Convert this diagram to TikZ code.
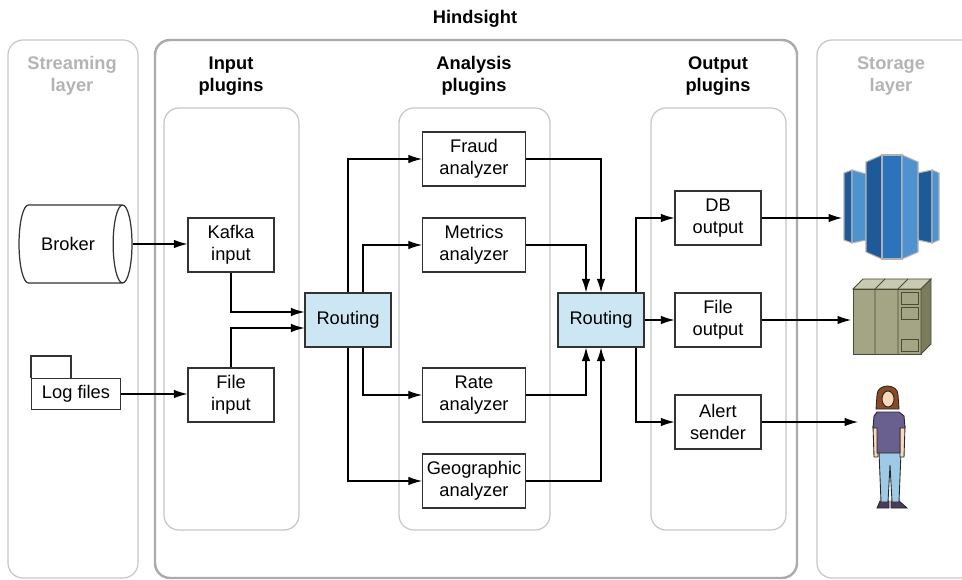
\documentclass[tikz,border=0pt]{standalone}
\usepackage{fontspec}
\setmainfont{Liberation Sans}
\usetikzlibrary{arrows.meta,shapes.geometric}

\definecolor{panelgray}{HTML}{C6C6C6}
\definecolor{framegray}{HTML}{ABABAB}
\definecolor{titlegray}{HTML}{B4B4B4}
\definecolor{routeblue}{HTML}{CDE6F4}
\definecolor{dbdark}{HTML}{1E5A97}
\definecolor{dbmid}{HTML}{2B73BB}
\definecolor{dblight}{HTML}{4E93CF}
\definecolor{srvfront}{HTML}{A4A585}
\definecolor{srvtop}{HTML}{C9CAB2}
\definecolor{srvside}{HTML}{7B7C5B}
\definecolor{srvline}{HTML}{4B4B33}
\definecolor{hair}{HTML}{8A4A24}
\definecolor{skin}{HTML}{F9D9BA}
\definecolor{shirt}{HTML}{6A608F}
\definecolor{jeans}{HTML}{9DCBE7}
\definecolor{shoe}{HTML}{4A3B5C}

\begin{document}
\begin{tikzpicture}[x=0.02cm, y=-0.02cm,
    every node/.style={font=\fontsize{10.4}{12.4}\selectfont},
    box/.style={draw=black!80, line width=0.7pt, fill=white, minimum width=1.72cm,
        minimum height=1.08cm, align=center, inner sep=1pt},
    abox/.style={box, minimum width=2.06cm},
    router/.style={box, fill=routeblue},
    panel/.style={draw=panelgray, line width=0.7pt, rounded corners=0.3cm},
    head/.style={font=\fontsize{10.4}{12.4}\selectfont\bfseries, align=center},
    arr/.style={-{Latex[length=2.7mm,width=1.7mm]}, line width=0.6pt}]
    \useasboundingbox (0,0) rectangle (962,580);

    % layers and plugin groups
    \draw[panel] (8,40) rectangle (138,578);
    \draw[panel, draw=framegray, line width=1.4pt] (155,40) rectangle (797,578);
    \draw[panel] (817,40) rectangle (990,578);
    \draw[panel] (164,108) rectangle (299,530);
    \draw[panel] (399,108) rectangle (550,530);
    \draw[panel] (651,108) rectangle (786,530);

    \node[head] (hindsight) at (475,19) {Hindsight};
    \node[head, text=titlegray] (streaming) at (72,76) {Streaming\\layer};
    \node[head] (inputs) at (231,76) {Input\\plugins};
    \node[head] (analysis) at (474,76) {Analysis\\plugins};
    \node[head] (outputs) at (718,76) {Output\\plugins};
    \node[head, text=titlegray] (storage) at (891,76) {Storage\\layer};

    % sources
    \node[cylinder, draw=black!80, line width=0.7pt, shape aspect=0.75,
        minimum width=1.56cm, minimum height=2.26cm] (broker) at (68,244) {Broker};
    \node[box, minimum width=1.78cm, minimum height=0.62cm] (logs) at (76,394) {Log files};
    \draw[line width=0.7pt, draw=black!80] (logs.north west) -- ++(0,-22) -- ++(40,0) -- ++(0,22);

    % plugins
    \node[box] (kafka) at (231,245) {Kafka\\input};
    \node[box] (filein) at (231,395) {File\\input};
    \node[router] (route1) at (348,320) {Routing};
    \node[abox] (fraud) at (474,159) {Fraud\\analyzer};
    \node[abox] (metrics) at (474,245) {Metrics\\analyzer};
    \node[abox] (rate) at (474,395) {Rate\\analyzer};
    \node[abox] (geo) at (474,481) {Geographic\\analyzer};
    \node[router] (route2) at (601,320) {Routing};
    \node[box] (dbout) at (718,218) {DB\\output};
    \node[box] (fileout) at (718,320) {File\\output};
    \node[box] (alert) at (718,422) {Alert\\sender};

    \coordinate (db) at (842,218);
    \coordinate (server) at (851,320);
    \coordinate (person) at (858,422);

    % connectors
    \draw[arr] (broker.east) -- (broker.east -| kafka.west);
    \draw[arr] (logs.east) -- (logs.east -| filein.west);
    \draw[arr] (kafka.south) |- ([yshift=.16cm]route1.west);
    \draw[arr] (filein.north) |- ([yshift=-.16cm]route1.west);
    \draw[arr] (route1.north) |- (fraud.west);
    \draw[arr] ([xshift=.3cm]route1.north) |- (metrics.west);
    \draw[arr] ([xshift=.3cm]route1.south) |- (rate.west);
    \draw[arr] (route1.south) |- (geo.west);
    \draw[arr] (fraud.east) -| (route2.north);
    \draw[arr] (metrics.east) -| ([xshift=-.3cm]route2.north);
    \draw[arr] (rate.east) -| ([xshift=-.3cm]route2.south);
    \draw[arr] (geo.east) -| (route2.south);
    \draw[arr] ([xshift=.7cm]route2.north) |- (dbout.west);
    \draw[arr] (route2.east) -- (fileout.west);
    \draw[arr] ([xshift=.7cm]route2.south) |- (alert.west);
    \draw[arr] (dbout.east) -- (db);
    \draw[arr] (fileout.east) -- (server);
    \draw[arr] (alert.east) -- (person);

    % database
    \begin{scope}[draw=gray!60, line width=0.6pt]
        \filldraw[fill=dbdark] (844,173) -- (852,170) -- (852,243) -- (844,240) -- cycle;
        \filldraw[fill=dblight] (852,170) -- (866,174) -- (866,240) -- (852,243) -- cycle;
        \filldraw[fill=dbdark] (918,173) -- (932,170) -- (932,243) -- (918,240) -- cycle;
        \filldraw[fill=dblight] (932,170) -- (939,173) -- (939,240) -- (932,243) -- cycle;
        \filldraw[fill=dbdark] (866,162) -- (882,155) -- (882,259) -- (866,252) -- cycle;
        \filldraw[fill=dbmid] (882,155) -- (902,155) -- (902,259) -- (882,259) -- cycle;
        \filldraw[fill=dblight] (902,155) -- (918,162) -- (918,252) -- (902,259) -- cycle;
    \end{scope}

    % server rack
    \begin{scope}[draw=srvline, line width=0.5pt]
        \filldraw[fill=srvfront] (853,289) rectangle (921,354);
        \filldraw[fill=srvtop] (853,289) -- (863,279) -- (931,279) -- (921,289) -- cycle;
        \filldraw[fill=srvside] (921,289) -- (931,279) -- (931,344) -- (921,354) -- cycle;
        \draw (875,289) -- (875,354) (875,289) -- (885,279);
        \draw (898,289) -- (898,354) (898,289) -- (908,279);
        \draw (901,292) rectangle (918,304);
        \draw (901,307) rectangle (918,319);
        \draw (901,339) rectangle (918,351);
    \end{scope}

    % person
    \begin{scope}[draw=black!85, line width=0.5pt]
        \filldraw[fill=shoe] (877,508) -- (880,501) -- (889,501) -- (889,508) -- cycle;
        \filldraw[fill=shoe] (891,508) -- (891,501) -- (899,501) -- (907,508) -- cycle;
        \filldraw[fill=jeans] (879,452) -- (901,452) -- (899,502) -- (892,502) -- (890,465)
            -- (888,502) -- (881,502) -- cycle;
        \filldraw[fill=skin] (873,426) -- (878,426) -- (878,457) -- (874,457) -- cycle;
        \filldraw[fill=skin] (900,426) -- (905,426) -- (904,457) -- (900,457) -- cycle;
        \filldraw[fill=shirt] (877,412) -- (899,412) -- (904,416) -- (905,428) -- (900,428)
            -- (900,453) -- (877,453) -- (877,428) -- (873,428) -- (874,416) -- cycle;
        \filldraw[fill=hair] (876,409) -- (877,395) .. controls (877,383) and (898,383) .. (898,395)
            -- (899,409) -- cycle;
        \filldraw[fill=skin] (888,399) ellipse [x radius=6, y radius=8];
    \end{scope}
\end{tikzpicture}
\end{document}
